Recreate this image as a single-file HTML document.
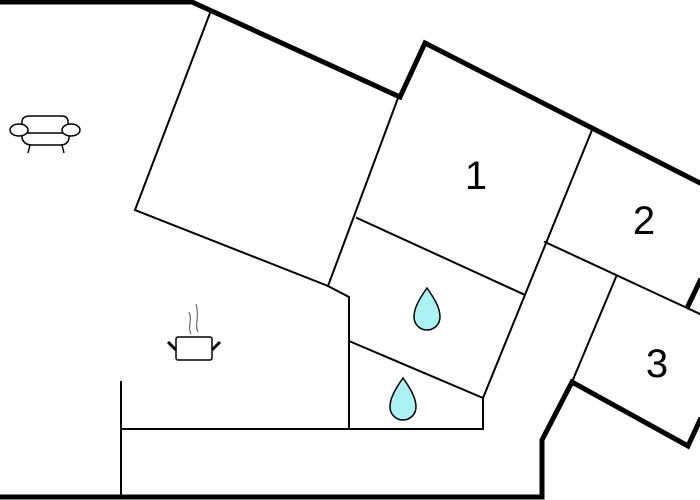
<!DOCTYPE html>
<html><head><style>body{margin:0;background:#fff}svg{display:block}</style></head><body>
<svg width="700" height="500" viewBox="0 0 700 500" xmlns="http://www.w3.org/2000/svg">
<g fill="none" stroke="#000" stroke-linecap="square">
<polyline points="0,2 192,2 400,97 425,43 700,183" stroke-width="5"/>
<polyline points="0,497 542,497 542,440 572,382 688,446 700,420" stroke-width="5"/>
<line x1="688" y1="306" x2="700" y2="281" stroke-width="5"/>
<g stroke-width="2">
<polyline points="210,13 135,210 328,286 349,297 349,429"/>
<line x1="398" y1="98" x2="328" y2="286"/>
<line x1="357" y1="218" x2="523" y2="294"/>
<polyline points="592,130 483,398 483,429"/>
<line x1="349" y1="341" x2="483" y2="398"/>
<line x1="121" y1="429" x2="483" y2="429"/>
<line x1="121" y1="382" x2="121" y2="497"/>
<line x1="545" y1="242" x2="700" y2="314"/>
<line x1="616" y1="277" x2="572" y2="382"/>
</g>
</g>
<g font-family="Liberation Sans, sans-serif" font-size="40" text-anchor="middle" fill="#000">
<text x="476" y="189">1</text>
<text x="644" y="234">2</text>
<text x="657" y="377">3</text>
</g>
<g fill="#aaf2f4" stroke="#000" stroke-width="1.5">
<path d="M427,288 C437,302 440,310 440,317 A13,13 0 0 1 414,317 C414,310 417,302 427,288Z"/>
<path d="M403,378 C413,392 416,400 416,407 A13,13 0 0 1 390,407 C390,400 393,392 403,378Z"/>
</g>
<g fill="#fff" stroke="#000" stroke-width="1.5">
<path d="M22,130 L22,122 Q22,116 30,116 L62,116 Q68,116 68,122 L68,130"/>
<path d="M22,133 L22,138 Q24,145 32,145 L60,145 Q68,145 69,138 L69,133"/>
<line x1="22" y1="133" x2="69" y2="133"/>
<ellipse cx="19" cy="130" rx="9" ry="6"/>
<ellipse cx="71" cy="130" rx="9" ry="6"/>
<line x1="30" y1="145" x2="28" y2="153"/>
<line x1="62" y1="145" x2="64" y2="153"/>
</g>
<g stroke="#000" fill="#fff">
<rect x="176" y="337" width="36" height="23" rx="2" stroke-width="1.5"/>
<line x1="168" y1="342" x2="176" y2="350" stroke-width="3"/>
<line x1="220" y1="342" x2="212" y2="350" stroke-width="3"/>
</g>
<g stroke="#777" fill="none" stroke-width="1.3">
<path d="M191,334 C187,326 193,321 189,312"/>
<path d="M198,332 C194,324 200,319 196,304"/>
</g>
</svg>
</body></html>
